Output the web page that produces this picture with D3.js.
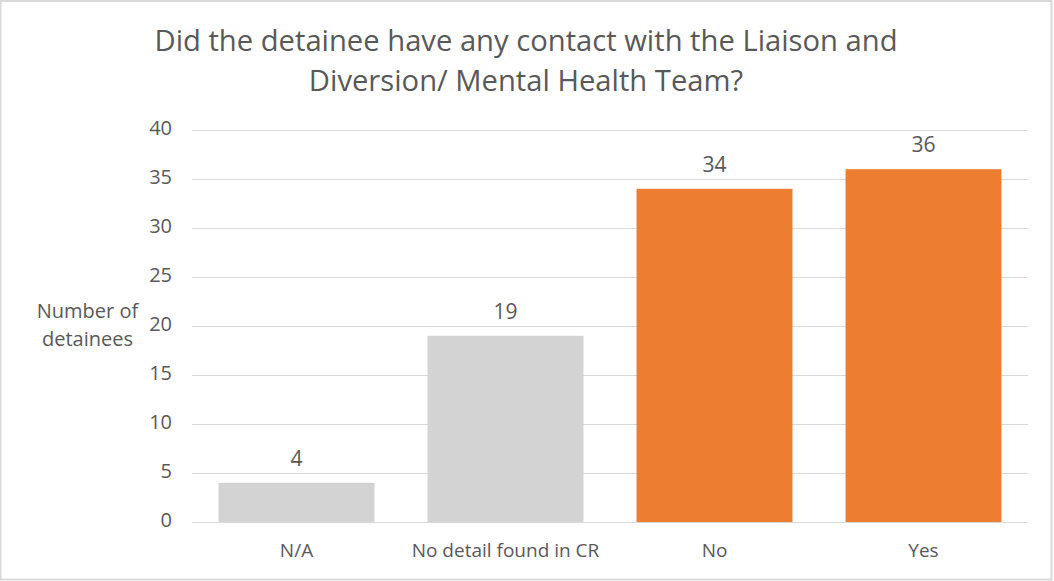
<!DOCTYPE html>
<html>
<head>
<meta charset="utf-8">
<script src="https://cdn.jsdelivr.net/npm/d3@7"></script>
<style>
  html, body { margin: 0; padding: 0; background: #fff; }
  svg text { font-family: "Open Sans", sans-serif; fill: #595959; }
</style>
</head>
<body>
<svg id="chart" width="1054" height="581"></svg>
<script>
const categories = ["N/A", "No detail found in CR", "No", "Yes"];
const values = [4, 19, 34, 36];
const barColors = ["#d3d3d3", "#d3d3d3", "#ed7d31", "#ed7d31"];
const yTicks = [0, 5, 10, 15, 20, 25, 30, 35, 40];
const titleLines = ["Did the detainee have any contact with the Liaison and", "Diversion/ Mental Health Team?"];
const yLabelLines = ["Number of", "detainees"];

const svg = d3.select("#chart");
const W = 1054, H = 581;
const plot = { left: 192, right: 1028, top: 130, bottom: 522 };

// chart frame
svg.append("rect")
  .attr("x", 0.5).attr("y", 1).attr("width", W - 3).attr("height", H - 2.5)
  .attr("fill", "#fff").attr("stroke", "#d9d9d9").attr("stroke-width", 2);

const x = d3.scaleBand()
  .domain(categories)
  .range([plot.left, plot.right])
  .paddingInner(0.254)
  .paddingOuter(0.127);

const y = d3.scaleLinear().domain([0, 40]).range([plot.bottom, plot.top]);

// gridlines
svg.append("g")
  .selectAll("line")
  .data(yTicks)
  .join("line")
  .attr("x1", plot.left).attr("x2", plot.right)
  .attr("y1", d => Math.round(y(d)) + 0.5).attr("y2", d => Math.round(y(d)) + 0.5)
  .attr("stroke", "#d9d9d9").attr("stroke-width", 1);

// y axis tick labels
const yAxis = d3.axisLeft(y).tickValues(yTicks).tickSize(0).tickPadding(20);
const gy = svg.append("g").attr("transform", `translate(${plot.left},0)`).call(yAxis);
gy.select(".domain").remove();
gy.selectAll("text")
  .attr("font-size", 20).style("font-family", null).attr("fill", "#595959")
  .attr("dy", "0.22em");

// bars
svg.append("g")
  .selectAll("rect")
  .data(values)
  .join("rect")
  .attr("x", (d, i) => x(categories[i]))
  .attr("y", d => y(d))
  .attr("width", x.bandwidth())
  .attr("height", d => y(0) - y(d))
  .attr("fill", (d, i) => barColors[i]);

// value labels
svg.append("g")
  .selectAll("text")
  .data(values)
  .join("text")
  .attr("x", (d, i) => x(categories[i]) + x.bandwidth() / 2)
  .attr("y", d => y(d) - 17)
  .attr("text-anchor", "middle")
  .attr("font-size", 21)
  .text(d => d);

// x axis category labels
const xAxis = d3.axisBottom(x).tickSize(0).tickPadding(0);
const gx = svg.append("g").attr("transform", `translate(0,${plot.bottom})`).call(xAxis);
gx.select(".domain").remove();
gx.selectAll("text")
  .attr("font-size", 19).style("font-family", null).attr("fill", "#595959")
  .attr("y", 35).attr("dy", null);

// y axis title, one text per line
svg.append("g")
  .selectAll("text")
  .data(yLabelLines)
  .join("text")
  .attr("text-anchor", "middle")
  .attr("font-size", 20)
  .attr("x", 87.5)
  .attr("y", (d, i) => 318 + i * 28)
  .text(d => d);

// chart title
svg.append("text")
  .attr("text-anchor", "middle")
  .attr("font-size", 29.2)
  .selectAll("tspan")
  .data(titleLines)
  .join("tspan")
  .attr("x", 526)
  .attr("y", (d, i) => 51 + i * 40)
  .text(d => d);
</script>
</body>
</html>
